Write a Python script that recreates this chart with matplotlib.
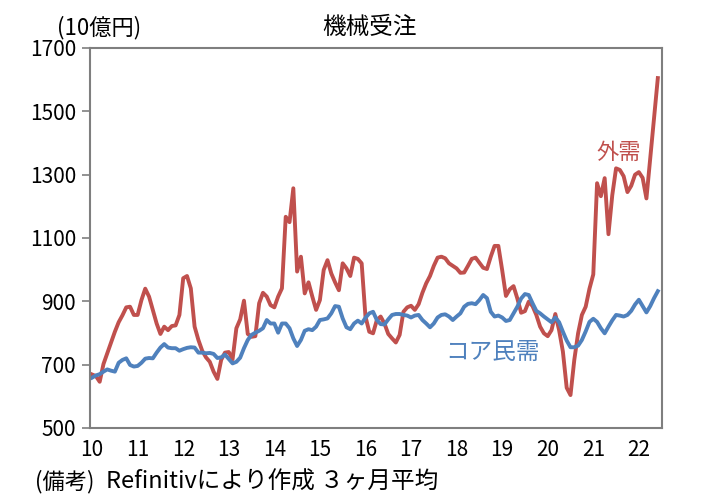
import matplotlib
matplotlib.use("Agg")
import matplotlib.pyplot as plt
import numpy as np

plt.rcParams['font.family'] = ['Noto Sans CJK JP', 'DejaVu Sans']

# monthly 3-month averages, Jan 2010 - Jun 2022 (10億円)
gaiju = [669, 664, 646, 702, 736, 769, 804, 834, 856, 881, 883, 857,
         857, 904, 940, 915, 873, 830, 797, 820, 809, 822, 824, 857,
         973, 980, 941, 820, 778, 744, 723, 709, 678, 655, 715, 738,
         740, 717, 815, 843, 902, 797, 788, 790, 894, 927, 915, 888,
         881, 915, 941, 1167, 1150, 1257, 994, 1041, 925, 960, 915, 873,
         904, 999, 1030, 988, 960, 935, 1020, 1004, 980, 1038, 1034, 1020,
         852, 804, 799, 841, 852, 830, 797, 783, 770, 794, 867, 881,
         886, 873, 891, 927, 957, 980, 1012, 1038, 1041, 1036, 1020, 1012,
         1004, 990, 991, 1012, 1034, 1038, 1022, 1006, 1002, 1041, 1075, 1075,
         999, 917, 938, 948, 909, 864, 869, 899, 885, 857, 820, 799,
         790, 809, 860, 809, 741, 627, 604, 715, 799, 857, 883, 940,
         985, 1273, 1232, 1289, 1112, 1235, 1320, 1315, 1295, 1245, 1265, 1300,
         1308, 1290, 1225, 1350, 1478, 1605]

core = [659, 666, 670, 678, 685, 681, 678, 706, 715, 720, 699, 694,
        696, 706, 719, 721, 720, 738, 754, 765, 754, 752, 752, 744,
        749, 753, 755, 754, 738, 738, 736, 737, 734, 721, 723, 732,
        718, 704, 709, 722, 752, 778, 794, 801, 807, 815, 841, 830,
        830, 801, 830, 830, 815, 783, 759, 778, 807, 812, 809, 820,
        841, 843, 846, 862, 885, 883, 846, 818, 812, 830, 839, 830,
        848, 862, 867, 841, 828, 827, 843, 857, 860, 860, 857, 855,
        849, 855, 857, 841, 830, 818, 830, 849, 857, 859, 852, 841,
        852, 862, 883, 892, 894, 891, 904, 920, 910, 867, 852, 855,
        849, 838, 841, 862, 883, 909, 923, 920, 894, 870, 862, 852,
        843, 834, 849, 834, 804, 776, 755, 755, 760, 778, 805, 835,
        845, 835, 815, 799, 820, 840, 857, 855, 852, 857, 870, 890,
        905, 885, 865, 885, 910, 932]

year_labels = ['10', '11', '12', '13', '14', '15', '16', '17', '18', '19', '20', '21', '22']
yticks = [500, 700, 900, 1100, 1300, 1500, 1700]

red = '#C0504D'
blue = '#4F81BD'

fig = plt.figure(figsize=(7.01, 5.04), dpi=100)
ax = fig.add_axes([90 / 701, 76 / 504, 572 / 701, 380 / 504])

x = np.arange(len(gaiju))
ax.plot(x, gaiju, color=red, lw=2.8, solid_joinstyle='round')
ax.plot(x, core, color=blue, lw=2.8, solid_joinstyle='round')

ax.set_ylim(500, 1700)
ax.set_yticks(yticks)
ax.set_xlim(-0.55, 150.1)
ax.set_xticks(np.arange(0, 12 * len(year_labels), 12))
ax.set_xticklabels(year_labels)
ax.tick_params(axis='x', length=0, pad=8, labelsize=15)
ax.tick_params(axis='y', length=6, width=1.2, color='#7f7f7f', pad=4, labelsize=15)
for sp in ax.spines.values():
    sp.set_color('#7f7f7f')
    sp.set_linewidth(1.5)

ax.text(0.925, 0.726, '外需', transform=ax.transAxes, color=red, fontsize=16,
        ha='center', va='center')
ax.text(0.703, 0.2, 'コア民需', transform=ax.transAxes, color=blue, fontsize=17,
        ha='center', va='center')

fig.text(370 / 701, 1 - 28 / 504, '機械受注', ha='center', va='center', fontsize=17)
fig.text(57 / 701, 1 - 28 / 504, '(10億円)', ha='left', va='center', fontsize=16)
fig.text(35 / 701, 1 - 482 / 504, '(備考)', ha='left', va='center', fontsize=16)
fig.text(106 / 701, 1 - 482 / 504, 'Refinitivにより作成 ３ヶ月平均', ha='left', va='center', fontsize=17)

fig.savefig('out.png', dpi=100)
